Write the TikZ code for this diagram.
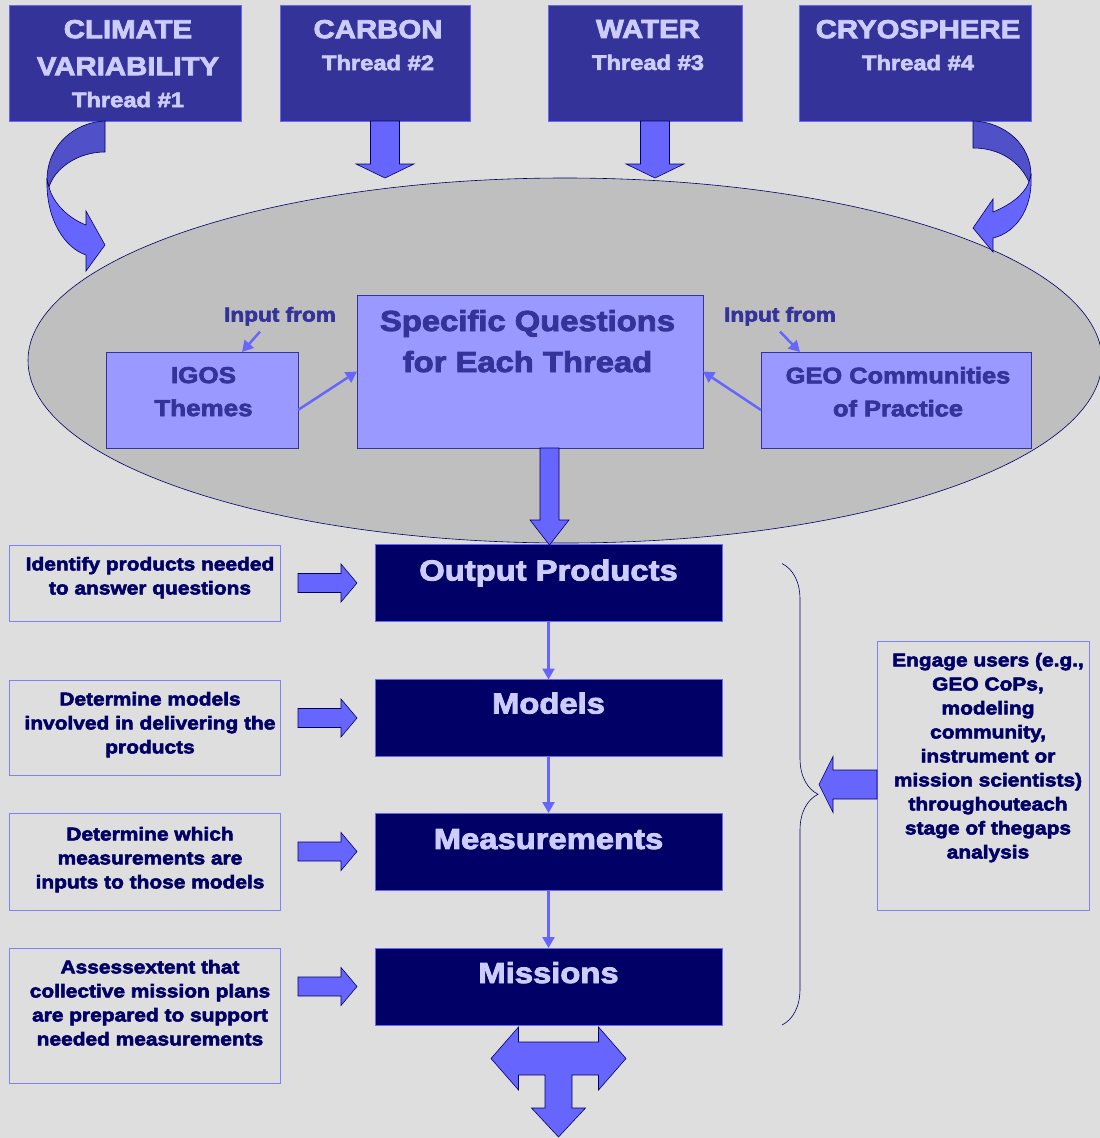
\documentclass[tikz,border=0pt]{standalone}
\usepackage{fontspec}
\newfontfamily\heavy{Liberation Sans}[UprightFont={* Bold}, FakeBold=3, FakeStretch=1.13]
\usetikzlibrary{shapes.geometric, arrows.meta, positioning, calc, decorations.pathreplacing}
\definecolor{pagebg}{RGB}{222,222,222}
\definecolor{threadblue}{RGB}{51,51,153}
\definecolor{arrowblue}{RGB}{102,102,255}
\definecolor{arrowback}{RGB}{80,80,200}
\definecolor{lilac}{RGB}{204,204,255}
\definecolor{navy}{RGB}{0,0,102}
\definecolor{periwinkle}{RGB}{153,153,255}
\definecolor{ovalgray}{RGB}{191,191,191}
\definecolor{noteline}{RGB}{128,128,255}

\begin{document}
\begin{tikzpicture}[
    x=1pt, y=-1pt,
    every node/.style={inner sep=0pt, outer sep=0pt, align=center},
    thread/.style={rectangle, fill=threadblue, draw=arrowblue, line width=0.8pt, minimum height=116pt},
    threadtxt/.style={text=lilac, anchor=north, font=\heavy\fontsize{26}{36}\selectfont},
    qbox/.style={rectangle, fill=periwinkle, draw=threadblue, line width=0.8pt},
    qtxt/.style={text=threadblue, anchor=north},
    stage/.style={rectangle, fill=navy, draw=arrowblue, line width=0.8pt, minimum width=347pt, minimum height=77pt},
    stagetxt/.style={text=lilac, anchor=north, font=\heavy\fontsize{29}{35}\selectfont},
    note/.style={rectangle, draw=noteline, line width=0.8pt, minimum width=271pt},
    notetxt/.style={text=navy, anchor=north, font=\heavy\fontsize{18.5}{24}\selectfont},
    blockarr/.style={fill=arrowblue, draw=navy, line width=0.6pt, line join=miter},
    blockback/.style={blockarr, fill=arrowback},
    link/.style={draw=arrowblue, line width=2.5pt, -{Triangle[length=11pt, width=12pt]}},
]

\fill[pagebg] (0,0) rectangle (1100,1138);
\useasboundingbox (0,0) rectangle (1100,1138);

% ── Threads ──
\node[thread, minimum width=232pt] (climate) at (125,63) {};
\node[thread, minimum width=190pt] (carbon) at (375,63) {};
\node[thread, minimum width=194pt] (water) at (645,63) {};
\node[thread, minimum width=232pt] (cryo) at (915,63) {};
\node[threadtxt, below=15pt of climate.north, xshift=3pt] (climatetxt) {CLIMATE\\[1pt]VARIABILITY\\[-4pt]\fontsize{21}{36}\selectfont Thread \#1};
\node[threadtxt, below=15pt of carbon.north, xshift=3pt] (carbontxt) {CARBON\\[-4pt]\fontsize{21}{36}\selectfont Thread \#2};
\node[threadtxt, below=15pt of water.north, xshift=3pt] (watertxt) {WATER\\[-4pt]\fontsize{21}{36}\selectfont Thread \#3};
\node[threadtxt, below=15pt of cryo.north, xshift=3pt] (cryotxt) {CRYOSPHERE\\[-4pt]\fontsize{21}{36}\selectfont Thread \#4};

% ── Question zone ──
\node[ellipse, fill=ovalgray, draw=navy, line width=0.6pt, minimum width=1074pt, minimum height=365pt] (qzone) at (565,360.5) {};

% thread arrows into the zone
\foreach \t in {carbon,water}
  \draw[blockarr, shift={(\t.south)}] (-4.5,0) -- (-4.5,43) -- (-19,43) -- (10,57) -- (39,43) -- (24.5,43) -- (24.5,0) -- cycle;
\begin{scope}[shift={(climate.south west)}]
  \draw[blockback] (96,0) .. controls (66,1) and (38,24) .. (38,59) -- (40,66) .. controls (46,47) and (69,31) .. (96,31) -- cycle;
  \draw[blockarr] (38,59) .. controls (37,99) and (56,127) .. (77,134) -- (77,150) -- (96,124) -- (77,90) -- (77,104) .. controls (59,97) and (44,82) .. (40,66) -- cycle;
\end{scope}
\begin{scope}[shift={(cryo.south west)}]
  \draw[blockback] (174,0) .. controls (206,1) and (232,24) .. (232,54) -- (230,61) .. controls (221,41) and (201,27) .. (174,27) -- cycle;
  \draw[blockarr] (232,54) .. controls (234,89) and (216,112) .. (194,117) -- (194,131) -- (174,107) -- (194,78) -- (194,91) .. controls (211,84) and (225,74) .. (230,61) -- cycle;
\end{scope}

\node[qbox, minimum width=346pt, minimum height=153pt] (spec) at (530,371.5) {};
\node[qtxt, below=15pt of spec.north, xshift=-2.5pt, font=\heavy\fontsize{29}{41}\selectfont] (spectxt) {Specific Questions\\for Each Thread};
\node[qbox, minimum width=192pt, minimum height=96pt] (igos) at (202,400) {};
\node[qtxt, below=15pt of igos.north, xshift=1.5pt, font=\heavy\fontsize{23}{33}\selectfont] (igostxt) {IGOS\\Themes};
\node[qbox, minimum width=270pt, minimum height=96pt] (geo) at (896,400) {};
\node[qtxt, below=15pt of geo.north, xshift=2pt, font=\heavy\fontsize{22.5}{33}\selectfont] (geotxt) {GEO Communities\\of Practice};
\node[qtxt, font=\heavy\fontsize{20}{24}\selectfont] (inleft) at (280,307) {Input from};
\node[qtxt, font=\heavy\fontsize{20}{24}\selectfont] (inright) at (780,307) {Input from};

\draw[link] ([xshift=-20pt, yshift=-6pt]inleft.south) -- ([xshift=40pt]igos.north);
\draw[link] ([yshift=-6pt]inright.south) -- ([xshift=-96pt]geo.north);
\draw[link] ([yshift=-10pt]igos.east) -- (spec.west);
\draw[link] ([yshift=-10pt]geo.west) -- (spec.east);

% ── Stages ──
\node[stage] (output) at (548.5,583) {};
\node[stagetxt, below=15pt of output.north] (outputtxt) {Output Products};
\node[stage] (models) at (548.5,718) {};
\node[stagetxt, below=13pt of models.north] (modelstxt) {Models};
\node[stage] (meas) at (548.5,851.5) {};
\node[stagetxt, below=16pt of meas.north] (meastxt) {Measurements};
\node[stage] (missions) at (548.5,986.5) {};
\node[stagetxt, below=14pt of missions.north] (missionstxt) {Missions};

\draw[blockarr, shift={(spec.south)}] (10,0) -- (10,72) -- (0,72) -- (19.5,97) -- (39,72) -- (29,72) -- (29,0) -- cycle;
\draw[link] (output) -- (models);
\draw[link] (models) -- (meas);
\draw[link] (meas) -- (missions);

% ── Notes on the left ──
\node[note, minimum height=76pt] (identify) at (144.5,583) {};
\node[notetxt, below=12pt of identify.north, xshift=5.5pt] (identifytxt) {Identify products needed\\to answer questions};
\node[note, minimum height=95pt] (determine) at (144.5,727.5) {};
\node[notetxt, below=12pt of determine.north, xshift=5.5pt] (determinetxt) {Determine models\\involved in delivering the\\products};
\node[note, minimum height=97pt] (which) at (144.5,861.5) {};
\node[notetxt, below=14pt of which.north, xshift=5.5pt] (whichtxt) {Determine which\\measurements are\\inputs to those models};
\node[note, minimum height=135pt] (assess) at (144.5,1015.5) {};
\node[notetxt, below=12pt of assess.north, xshift=5.5pt] (assesstxt) {Assessextent that\\collective mission plans\\are prepared to support\\needed measurements};

\foreach \s in {output,models,meas,missions}
  \draw[blockarr] ([xshift=-18pt]\s.west) -- ++(-16,-19) -- ++(0,9.5) -- ++(-43,0) -- ++(0,19) -- ++(43,0) -- ++(0,9.5) -- cycle;

% ── Users ──
\node[note, minimum width=212pt, minimum height=269pt] (engage) at (983,775.5) {};
\node[notetxt, below=12pt of engage.north, xshift=5pt] (engagetxt) {Engage users (e.g.,\\GEO CoPs,\\modeling\\community,\\instrument or\\mission scientists)\\throughouteach\\stage of thegaps\\analysis};
\draw[blockarr, shift={(engage.west)}] (0,-5.5) -- (-44,-5.5) -- (-44,-19) -- (-58,9) -- (-44,37) -- (-44,23.5) -- (0,23.5) -- cycle;
\draw[navy, line width=0.6pt, decorate, decoration={brace, amplitude=36pt}] ([xshift=60pt, yshift=-19pt]output.north east) -- ([xshift=60pt]missions.south east);

% ── Outcome ──
\draw[blockarr, shift={([xshift=10pt]missions.south)}] (-40,2) -- (-40,17) -- (40,17) -- (40,2) -- (67.5,33.5) -- (40,65) -- (40,50) -- (13.5,50) -- (13.5,83) -- (27,83) -- (0,112) -- (-27,83) -- (-13.5,83) -- (-13.5,50) -- (-40,50) -- (-40,65) -- (-67.5,33.5) -- cycle;

\end{tikzpicture}
\end{document}
